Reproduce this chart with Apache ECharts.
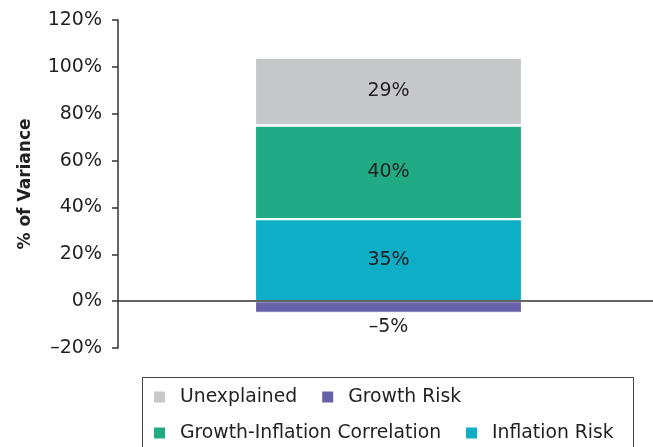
<!DOCTYPE html>
<html>
<head>
<meta charset="utf-8">
<script src="https://cdn.jsdelivr.net/npm/echarts@6/dist/echarts.min.js"></script>
<style>
  html, body { margin: 0; padding: 0; background: #fff; }
  #chart { width: 653px; height: 447px; }
</style>
</head>
<body>
<div id="chart"></div>
<script>
// Variance decomposition, in percent
const categories = ['Portfolio'];
const inflationRisk = [35];
const growthInflationCorrelation = [40];
const unexplained = [29];
const growthRisk = [-5];
const yTicks = { min: -20, max: 120, step: 20 };

const FONT = '"DejaVu Sans", sans-serif';
const TEXT = '#231f20';
const AXIS = '#333333';

const fmtPct = v => (v < 0 ? '\u2013' + Math.abs(v) : String(v)) + '%';

const labelBase = {
  show: true,
  fontFamily: FONT,
  fontSize: 19,
  color: TEXT,
  formatter: p => fmtPct(p.value)
};

function barSeries(name, data, color, labelPos) {
  return {
    name: name,
    type: 'bar',
    stack: 'total',
    data: data,
    barWidth: '49.4%',
    itemStyle: { color: color, borderColor: '#ffffff', borderWidth: 1.2 },
    label: Object.assign({}, labelBase, labelPos === 'bottom'
      ? { position: 'bottom', distance: 5 }
      : { position: 'inside' }),
    emphasis: { disabled: true }
  };
}

const legendText = {
  fontFamily: FONT,
  fontSize: 18.8,
  color: TEXT,
  lineHeight: 22,
  padding: [0, 0, 0, 10]
};

const legendCommon = {
  orient: 'horizontal',
  padding: 0,
  itemWidth: 11, itemHeight: 11, itemGap: 25,
  icon: 'rect',
  itemStyle: { borderWidth: 0 },
  textStyle: legendText
};

const chart = echarts.init(document.getElementById('chart'), null, { renderer: 'canvas' });
chart.setOption({
  animation: false,
  backgroundColor: '#ffffff',
  grid: { left: 118, top: 20, bottom: 99, width: 541, outerBoundsMode: 'none', containLabel: false },
  xAxis: {
    type: 'category',
    data: categories,
    z: 5,
    axisLine: { show: true, onZero: true, lineStyle: { color: AXIS, width: 1.5 } },
    axisTick: { show: false },
    axisLabel: { show: false },
    splitLine: { show: false }
  },
  yAxis: {
    type: 'value',
    min: yTicks.min,
    max: yTicks.max,
    interval: yTicks.step,
    name: '% of Variance',
    nameLocation: 'middle',
    nameGap: 84,
    nameTextStyle: { fontFamily: FONT, fontSize: 17, fontWeight: 'bold', color: TEXT },
    axisLine: { show: true, lineStyle: { color: AXIS, width: 1.5 } },
    axisTick: { show: true, inside: false, length: 6, lineStyle: { color: AXIS, width: 1.5 } },
    axisLabel: { fontFamily: FONT, fontSize: 19, color: TEXT, margin: 16, formatter: fmtPct },
    splitLine: { show: false }
  },
  legend: [
    Object.assign({ data: ['Unexplained', 'Growth Risk'], left: 154, top: 386 }, legendCommon),
    Object.assign({ data: ['Growth-Inflation Correlation', 'Inflation Risk'], left: 154, top: 422 }, legendCommon)
  ],
  graphic: [
    {
      type: 'rect',
      silent: true,
      shape: { x: 142.5, y: 377.5, width: 491, height: 100 },
      style: { fill: 'none', stroke: '#444444', lineWidth: 1 }
    }
  ],
  series: [
    barSeries('Inflation Risk', inflationRisk, '#0daec6'),
    barSeries('Growth-Inflation Correlation', growthInflationCorrelation, '#21ab85'),
    barSeries('Unexplained', unexplained, '#c7c8ca'),
    barSeries('Growth Risk', growthRisk, '#6661a9', 'bottom')
  ]
});
</script>
</body>
</html>
